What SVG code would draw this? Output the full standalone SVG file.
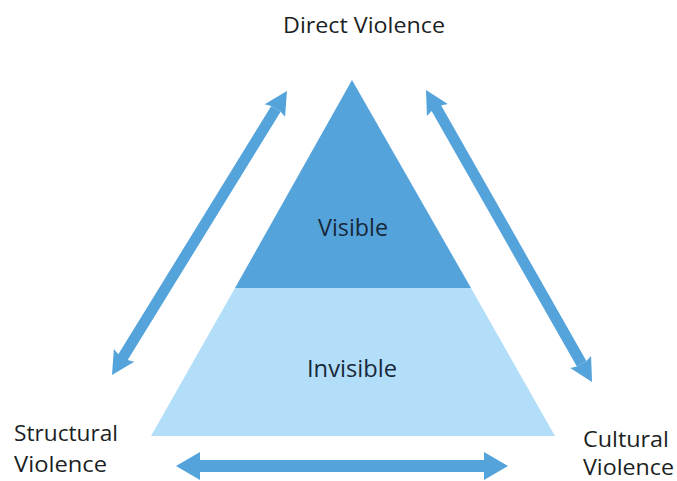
<svg xmlns="http://www.w3.org/2000/svg" width="677" height="481" viewBox="0 0 677 481">
<style>
.lbl{font-family:"Open Sans","Noto Sans","Liberation Sans",sans-serif;font-size:22px;fill:#1b1f24}
.in{font-family:"Open Sans","Noto Sans","Liberation Sans",sans-serif;font-size:24px;fill:#17283a}
.arrow{fill:#55A3DB}
</style>
<rect width="677" height="481" fill="#ffffff"/>
<g id="pyramid">
<polygon id="invisible-layer" points="235,288 471,288 555,436 151,436" fill="#B3DEFA"/>
<polygon id="visible-layer" points="352,80 471,288 235,288" fill="#55A3DB"/>
</g>
<g id="node-visible"><text class="in" x="318" y="236" textLength="70" lengthAdjust="spacingAndGlyphs">Visible</text></g>
<g id="node-invisible"><text class="in" x="307" y="377" textLength="90" lengthAdjust="spacingAndGlyphs">Invisible</text></g>
<g id="node-direct"><text class="lbl" x="283" y="33" textLength="162" lengthAdjust="spacingAndGlyphs">Direct Violence</text></g>
<g id="node-structural"><text class="lbl" x="14" y="441" textLength="104" lengthAdjust="spacingAndGlyphs">Structural</text><text class="lbl" x="14" y="472" textLength="93" lengthAdjust="spacingAndGlyphs">Violence</text></g>
<g id="node-cultural"><text class="lbl" x="583" y="447" textLength="86" lengthAdjust="spacingAndGlyphs">Cultural</text><text class="lbl" x="583" y="475" textLength="91" lengthAdjust="spacingAndGlyphs">Violence</text></g>
<g id="connectors" class="arrow">
<g transform="translate(112,375) rotate(-58.37)">
<polygon points="0,0 23,-12 21,-5.5 312.6,-5.5 312.6,5.5 21,5.5 23,12"/>
<polygon points="333.6,0 310.6,-12 312.6,-5.5 312.6,5.5 310.6,12"/>
</g>
<g transform="translate(426,90) rotate(60.38)">
<polygon points="0,0 23,-12 21,-5.5 314.9,-5.5 314.9,5.5 21,5.5 23,12"/>
<polygon points="335.9,0 312.9,-12 314.9,-5.5 314.9,5.5 312.9,12"/>
</g>
<polygon points="176,466 200,452 200,460 484,460 484,472 200,472 200,480"/>
<polygon points="508,466 484,452 484,480"/>
</g>
</svg>
